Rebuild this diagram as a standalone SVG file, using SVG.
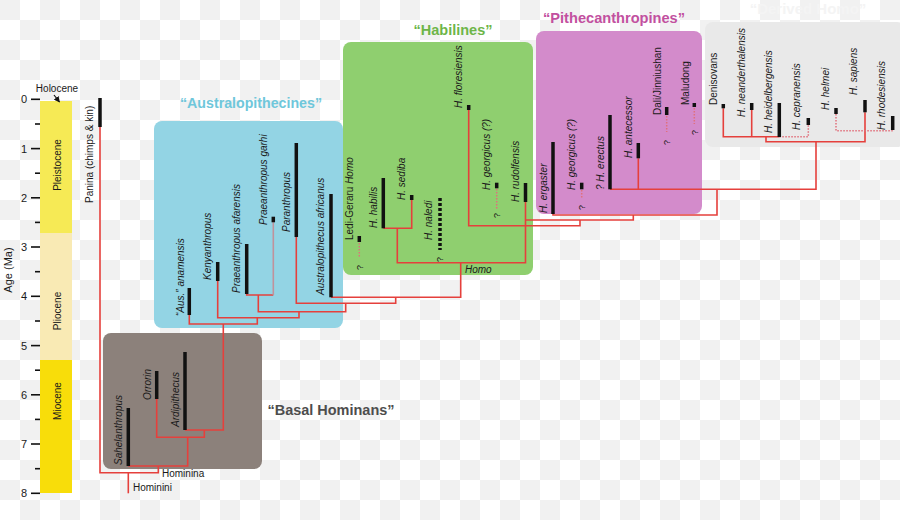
<svg xmlns="http://www.w3.org/2000/svg" width="900" height="520" viewBox="0 0 900 520">
<defs>
<pattern id="chk" width="40" height="40" patternUnits="userSpaceOnUse">
<rect width="40" height="40" fill="#ffffff"/>
<rect width="20" height="20" fill="#f1f1f1"/>
<rect x="20" y="20" width="20" height="20" fill="#f1f1f1"/>
</pattern>
<marker id="ah" viewBox="0 0 10 10" refX="9" refY="5" markerWidth="5" markerHeight="5" orient="auto">
<path d="M0,0 L10,5 L0,10 z" fill="#111"/>
</marker>
<style>
.lab{font-family:"Liberation Sans",Arial,sans-serif;font-size:10px;font-style:italic;fill:#1a1a1a}
.up{font-family:"Liberation Sans",Arial,sans-serif;font-size:10px;fill:#1a1a1a}
.ax{font-family:"Liberation Sans",Arial,sans-serif;font-size:11px;fill:#1a1a1a}
.ttl{font-family:"Liberation Sans",Arial,sans-serif;font-size:15px;font-weight:bold}
.bar{stroke:#111;stroke-width:3.5;fill:none}
.dbar{stroke:#111;stroke-width:3.5;fill:none;stroke-dasharray:3 2}
.ln{stroke:#e5403c;stroke-width:1.6;fill:none}
.dot{stroke:#e0707c;stroke-width:1.5;fill:none;stroke-dasharray:1.5 1.5}
.tick{stroke:#111;stroke-width:1.6}
.q{font-family:"Liberation Sans",Arial,sans-serif;font-size:9px;fill:#1a1a1a}
</style>
</defs>
<rect width="900" height="520" fill="url(#chk)"/>

<!-- time axis -->
<g id="axis">
<rect x="40" y="101" width="32" height="132" fill="#f6ea55"/>
<rect x="40" y="233" width="32" height="127" fill="#f9eab4"/>
<rect x="40" y="360" width="32" height="133" fill="#f8dd0a"/>
<text class="up" transform="translate(60.5,165) rotate(-90)" text-anchor="middle">Pleistocene</text>
<text class="up" transform="translate(60.5,311) rotate(-90)" text-anchor="middle">Pliocene</text>
<text class="up" transform="translate(60.5,401) rotate(-90)" text-anchor="middle">Miocene</text>
<text class="up" x="57" y="92" text-anchor="middle">Holocene</text>
<line x1="54" y1="95" x2="59.5" y2="102" stroke="#111" stroke-width="1.2" marker-end="url(#ah)"/>
<g class="tick">
<line x1="31" y1="99.3" x2="40" y2="99.3"/><line x1="31" y1="148.6" x2="40" y2="148.6"/>
<line x1="31" y1="197.8" x2="40" y2="197.8"/><line x1="31" y1="247" x2="40" y2="247"/>
<line x1="31" y1="296.3" x2="40" y2="296.3"/><line x1="31" y1="345.6" x2="40" y2="345.6"/>
<line x1="31" y1="394.8" x2="40" y2="394.8"/><line x1="31" y1="444" x2="40" y2="444"/>
<line x1="31" y1="493.3" x2="40" y2="493.3"/>
<line x1="35" y1="124" x2="40" y2="124"/><line x1="35" y1="173.2" x2="40" y2="173.2"/>
<line x1="35" y1="222.4" x2="40" y2="222.4"/><line x1="35" y1="271.7" x2="40" y2="271.7"/>
<line x1="35" y1="321" x2="40" y2="321"/><line x1="35" y1="370.2" x2="40" y2="370.2"/>
<line x1="35" y1="419.4" x2="40" y2="419.4"/><line x1="35" y1="468.7" x2="40" y2="468.7"/>
</g>
<g class="ax" text-anchor="end">
<text x="27" y="103.3">0</text><text x="27" y="152.6">1</text><text x="27" y="201.8">2</text>
<text x="27" y="251">3</text><text x="27" y="300.3">4</text><text x="27" y="349.6">5</text>
<text x="27" y="398.8">6</text><text x="27" y="448">7</text><text x="27" y="497.3">8</text>
</g>
<text class="ax" transform="translate(12,270) rotate(-90)" text-anchor="middle">Age (Ma)</text>
</g>

<!-- group boxes -->
<g id="box-basal">
<rect x="103" y="333" width="159" height="136" rx="8" fill="#8c817b"/>
<text class="ttl" x="331" y="415" text-anchor="middle" fill="#4d4d4d" textLength="127" lengthAdjust="spacingAndGlyphs">“Basal Hominans”</text>
</g>
<g id="box-australopithecines">
<rect x="154" y="121" width="189" height="207" rx="8" fill="#93d4e4"/>
<text class="ttl" x="251" y="108" text-anchor="middle" fill="#6fc7db" textLength="142" lengthAdjust="spacingAndGlyphs">“Australopithecines”</text>
</g>
<g id="box-habilines">
<rect x="343" y="42" width="190" height="233" rx="8" fill="#8fcf6f"/>
<text class="ttl" x="453" y="35" text-anchor="middle" fill="#6db548" textLength="79" lengthAdjust="spacingAndGlyphs">“Habilines”</text>
</g>
<g id="box-pithecanthropines">
<rect x="536" y="31" width="166" height="183" rx="8" fill="#d38bcb"/>
<text class="ttl" x="614" y="23" text-anchor="middle" fill="#c2509f" textLength="142" lengthAdjust="spacingAndGlyphs">“Pithecanthropines”</text>
</g>
<g id="box-derived">
<rect x="705" y="22" width="200" height="125" rx="8" fill="#e9e9e9"/>
<text class="ttl" x="808" y="14" text-anchor="middle" fill="#f4f4f4">“Derived Homo”</text>
</g>

<!-- connectors -->
<g id="connectors">
<path class="ln" d="M100,127 V472.7 H158.3 V466"/>
<path class="ln" d="M128.3,472.7 V493.3"/>
<path class="ln" d="M128.3,466 H187.7 V437.3"/>
<path class="ln" d="M156.7,399 V437.3 H204.3 V430"/>
<path class="ln" d="M185,430 H223.3 V324"/>
<path class="ln" d="M189.3,315 V324 H257.3 V317.7"/>
<path class="ln" d="M217.7,280.7 V317.7 H299 V311.7"/>
<path class="ln" d="M246.7,294 V295 H273.3"/>
<path d="M273.3,222.3 V295" stroke="#c0929c" stroke-width="1.6" fill="none"/>
<path class="ln" d="M258.3,295 V311.7 H345.7 V303.3"/>
<path class="ln" d="M296.3,237 V303.3 H395.7 V297.3"/>
<path class="ln" d="M331,297.3 H460.7 V262.7"/>
<path class="ln" d="M383.3,228.3 H411.7 V200"/>
<path class="ln" d="M397.3,228.3 V262.7 H525.5 V201.7"/>
<path class="ln" d="M468.7,110 V225.7 H580 V220"/>
<path class="ln" d="M525.5,220 H633.3 V215"/>
<path class="ln" d="M553,213.5 V215 H717 V189.3"/>
<path class="ln" d="M638.3,158.3 V189.3"/>
<path class="ln" d="M610,189.3 H816 V141.7"/>
<path class="ln" d="M766,136.7 V141.7 H865 V112.3"/>
<path class="ln" d="M723.3,108.3 V136.7 H779.3"/>
<path class="ln" d="M751.7,110 V136.7"/>
<path class="dot" d="M779.3,136.7 H808.3 V125"/>
<path class="dot" d="M836,114 V130.7 H892.7"/>
<path class="dot" d="M359.3,243 V257"/>
<path class="dot" d="M496.7,189 V209"/>
<path class="dot" d="M581.7,190 V199"/>
<path class="dot" d="M666.7,116 V132"/>
<path class="dot" d="M694.3,108 V124"/>
</g>

<!-- taxa -->
<g id="panina"><line class="bar" x1="100" y1="98" x2="100" y2="127"/>
<text class="up" transform="translate(93,203) rotate(-90)">Panina (chimps &amp; kin)</text></g>
<text class="up" x="162" y="477">Hominina</text>
<text class="up" x="133" y="491">Hominini</text>
<g id="sahelanthropus"><line class="bar" x1="128.3" y1="408" x2="128.3" y2="466"/>
<text class="lab" transform="translate(121.5,465) rotate(-90)">Sahelanthropus</text></g>
<g id="orrorin"><line class="bar" x1="156.7" y1="371" x2="156.7" y2="399"/>
<text class="lab" transform="translate(150.5,400) rotate(-90)">Orrorin</text></g>
<g id="ardipithecus"><line class="bar" x1="185" y1="352" x2="185" y2="430"/>
<text class="lab" transform="translate(178.5,427) rotate(-90)">Ardipithecus</text></g>

<g id="anamensis"><line class="bar" x1="189.3" y1="288" x2="189.3" y2="315"/>
<text class="lab" transform="translate(183.5,316) rotate(-90)">“Aus.” anamensis</text></g>
<g id="kenyanthropus"><line class="bar" x1="217.7" y1="262" x2="217.7" y2="281"/>
<text class="lab" transform="translate(210.5,280) rotate(-90)">Kenyanthropus</text></g>
<g id="afarensis"><line class="bar" x1="246.7" y1="244" x2="246.7" y2="294"/>
<text class="lab" transform="translate(239.5,293) rotate(-90)">Praeanthropus afarensis</text></g>
<g id="garhi"><line class="bar" x1="273.3" y1="216.7" x2="273.3" y2="222.3"/>
<text class="lab" transform="translate(266.8,225) rotate(-90)">Praeanthropus garhi</text></g>
<g id="paranthropus"><line class="bar" x1="296.3" y1="143" x2="296.3" y2="237"/>
<text class="lab" transform="translate(290,232) rotate(-90)">Paranthropus</text></g>
<g id="africanus"><line class="bar" x1="331" y1="194" x2="331" y2="297.3"/>
<text class="lab" transform="translate(324,295) rotate(-90)">Australopithecus africanus</text></g>

<g id="ledi-geraru"><line class="bar" x1="359.3" y1="236" x2="359.3" y2="242"/>
<text class="up" transform="translate(352.5,240) rotate(-90)">Ledi-Geraru <tspan font-style="italic">Homo</tspan></text>
<text class="q" transform="translate(362.5,270) rotate(-90)">?</text></g>
<g id="habilis"><line class="bar" x1="383.3" y1="178" x2="383.3" y2="228.3"/>
<text class="lab" transform="translate(376.8,228) rotate(-90)">H. habilis</text></g>
<g id="sediba"><line class="bar" x1="411.7" y1="195" x2="411.7" y2="200"/>
<text class="lab" transform="translate(405,200) rotate(-90)">H. sediba</text></g>
<g id="naledi"><line class="dbar" x1="440" y1="198" x2="440" y2="250"/>
<text class="lab" transform="translate(431.8,240) rotate(-90)">H. naledi</text>
<text class="q" transform="translate(443,262) rotate(-90)">?</text></g>
<g id="floresiensis"><line class="bar" x1="468.7" y1="105" x2="468.7" y2="110"/>
<text class="lab" transform="translate(461.8,108) rotate(-90)">H. floresiensis</text></g>
<g id="georgicus-1"><line class="bar" x1="496.7" y1="182.7" x2="496.7" y2="188.3"/>
<text class="lab" transform="translate(490,190) rotate(-90)">H. georgicus (?)</text>
<text class="q" transform="translate(500,218) rotate(-90)">?</text></g>
<g id="rudolfensis"><line class="bar" x1="525.5" y1="183" x2="525.5" y2="202"/>
<text class="lab" transform="translate(518.5,202) rotate(-90)">H. rudolfensis</text></g>
<text class="lab" x="465" y="273">Homo</text>

<g id="ergaster"><line class="bar" x1="553" y1="142" x2="553" y2="214"/>
<text class="lab" transform="translate(546.5,213) rotate(-90)">H. ergaster</text></g>
<g id="georgicus-2"><line class="bar" x1="581.7" y1="182.7" x2="581.7" y2="189.3"/>
<text class="lab" transform="translate(575,190) rotate(-90)">H. georgicus (?)</text>
<text class="q" transform="translate(585,210) rotate(-90)">?</text></g>
<g id="erectus"><line class="bar" x1="610" y1="115" x2="610" y2="189.3"/>
<text class="lab" transform="translate(603.5,190) rotate(-90)">? H. erectus</text></g>
<g id="antecessor"><line class="bar" x1="638.3" y1="143" x2="638.3" y2="158.3"/>
<text class="lab" transform="translate(631.5,158) rotate(-90)">H. antecessor</text></g>
<g id="dali"><line class="bar" x1="666.7" y1="107" x2="666.7" y2="115"/>
<text class="up" transform="translate(660.5,115) rotate(-90)">Dali/Jinniushan</text>
<text class="q" transform="translate(670,145) rotate(-90)">?</text></g>
<g id="maludong"><line class="bar" x1="694.3" y1="103" x2="694.3" y2="107"/>
<text class="up" transform="translate(688.5,105) rotate(-90)">Maludong</text>
<text class="q" transform="translate(697.5,135) rotate(-90)">?</text></g>

<g id="denisovans"><line class="bar" x1="723.3" y1="104" x2="723.3" y2="108.3"/>
<text class="up" transform="translate(716.8,105) rotate(-90)">Denisovans</text></g>
<g id="neanderthalensis"><line class="bar" x1="751.7" y1="103" x2="751.7" y2="110"/>
<text class="lab" transform="translate(745.2,117) rotate(-90)">H. neanderthalensis</text></g>
<g id="heidelbergensis"><line class="bar" x1="779.3" y1="103" x2="779.3" y2="137"/>
<text class="lab" transform="translate(771.8,133) rotate(-90)">H. heidelbergensis</text></g>
<g id="cepranensis"><line class="bar" x1="808.3" y1="118" x2="808.3" y2="125"/>
<text class="lab" transform="translate(800.2,130) rotate(-90)">H. cepranensis</text></g>
<g id="helmei"><line class="bar" x1="836" y1="108" x2="836" y2="114"/>
<text class="lab" transform="translate(828.5,110) rotate(-90)">H. helmei</text></g>
<g id="sapiens"><line class="bar" x1="865" y1="100" x2="865" y2="112.3"/>
<text class="lab" transform="translate(856.8,95) rotate(-90)">H. sapiens</text></g>
<g id="rhodesiensis"><line class="bar" x1="892.7" y1="116" x2="892.7" y2="130"/>
<text class="lab" transform="translate(885.2,130) rotate(-90)">H. rhodesiensis</text></g>
</svg>
